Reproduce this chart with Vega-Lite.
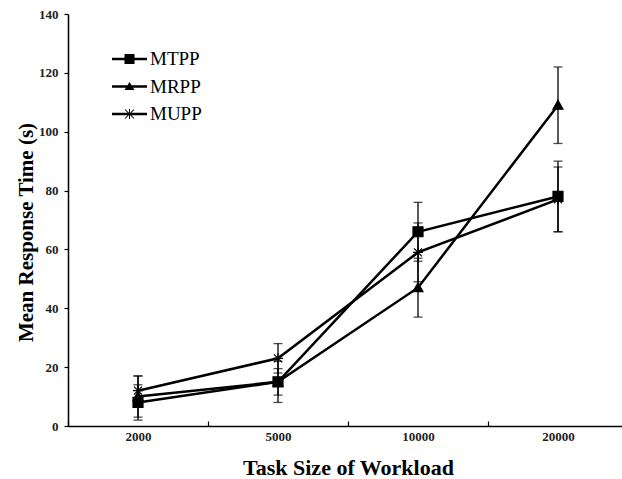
{
  "$schema": "https://vega.github.io/schema/vega-lite/v6.json",
  "width": 554,
  "height": 412,
  "autosize": {"type": "none"},
  "padding": {"left": 68, "top": 14, "right": 0, "bottom": 53},
  "background": "white",
  "config": {
    "view": {"stroke": null},
    "font": "Liberation Serif",
    "axis": {
      "grid": false,
      "domainColor": "black",
      "domainWidth": 1.5,
      "tickColor": "black",
      "tickWidth": 1.2,
      "labelFont": "Liberation Serif",
      "labelFontWeight": "bold",
      "labelFontSize": 13,
      "labelColor": "#222",
      "titleFont": "Liberation Serif",
      "titleFontWeight": "bold",
      "titleFontSize": 22,
      "titleColor": "black"
    }
  },
  "data": {
    "values": [
      {"series": "MTPP", "task": "2000", "mean": 8, "lo": 2, "hi": 14},
      {"series": "MTPP", "task": "5000", "mean": 15, "lo": 10.5, "hi": 19.5},
      {"series": "MTPP", "task": "10000", "mean": 66, "lo": 56, "hi": 76},
      {"series": "MTPP", "task": "20000", "mean": 78, "lo": 66, "hi": 90},
      {"series": "MRPP", "task": "2000", "mean": 10, "lo": 3, "hi": 17},
      {"series": "MRPP", "task": "5000", "mean": 15, "lo": 8, "hi": 22},
      {"series": "MRPP", "task": "10000", "mean": 47, "lo": 37, "hi": 57},
      {"series": "MRPP", "task": "20000", "mean": 109, "lo": 96, "hi": 122},
      {"series": "MUPP", "task": "2000", "mean": 12, "lo": 7, "hi": 17},
      {"series": "MUPP", "task": "5000", "mean": 23, "lo": 18, "hi": 28},
      {"series": "MUPP", "task": "10000", "mean": 59, "lo": 49, "hi": 69},
      {"series": "MUPP", "task": "20000", "mean": 77, "lo": 66, "hi": 88}
    ]
  },
  "encoding": {
    "x": {
      "field": "task",
      "type": "ordinal",
      "sort": ["2000", "5000", "10000", "20000"],
      "scale": {"type": "band", "range": [0, 560], "paddingInner": 0, "paddingOuter": 0},
      "axis": {
        "title": "Task Size of Workload",
        "labelAngle": 0,
        "labelPadding": 9,
        "tickBand": "extent",
        "tickSize": -5,
        "titleY": 48,
        "titleBaseline": "alphabetic"
      }
    }
  },
  "layer": [
    {
      "mark": {"type": "line", "color": "black", "strokeWidth": 2.5},
      "encoding": {
        "y": {
          "field": "mean",
          "type": "quantitative",
          "title": "Mean Response Time (s)",
          "scale": {"domain": [0, 140], "nice": false},
          "axis": {
            "values": [0, 20, 40, 60, 80, 100, 120, 140],
            "tickSize": 4,
            "labelPadding": 6,
            "titleFontSize": 21,
            "titleX": -36,
            "titleY": 218,
            "titleBaseline": "alphabetic"
          }
        },
        "detail": {"field": "series"}
      }
    },
    {
      "mark": {
        "type": "errorbar",
        "color": "black",
        "thickness": 1.3,
        "ticks": {"size": 9, "thickness": 1.3, "color": "black"}
      },
      "encoding": {
        "y": {"field": "lo", "type": "quantitative", "title": "Mean Response Time (s)"},
        "y2": {"field": "hi"},
        "detail": {"field": "series"}
      }
    },
    {
      "mark": {"type": "point", "filled": true, "color": "black", "stroke": "black", "strokeWidth": 1.2, "opacity": 1, "size": 100},
      "encoding": {
        "y": {"field": "mean", "type": "quantitative", "title": "Mean Response Time (s)"},
        "shape": {
          "field": "series",
          "type": "nominal",
          "scale": {
            "domain": ["MTPP", "MRPP", "MUPP"],
            "range": [
              "M-1,-1H1V1H-1Z",
              "M0,-1L1,0.8L-1,0.8Z",
              "M-1,0H1M0,-1V1M-0.8,-0.8L0.8,0.8M-0.8,0.8L0.8,-0.8"
            ]
          },
          "legend": null
        }
      }
    },
    {
      "mark": {"type": "point", "filled": true, "color": "black", "opacity": 0},
      "encoding": {
        "y": {"field": "mean", "type": "quantitative", "title": "Mean Response Time (s)"},
        "shape": {
          "field": "series",
          "type": "nominal",
          "scale": {
            "domain": ["MTPP", "MRPP", "MUPP"],
            "range": [
              "M-1.75,-0.12H1.75V0.12H-1.75ZM-0.5,-0.5H0.5V0.5H-0.5Z",
              "M-1.75,-0.12H1.75V0.12H-1.75ZM0,-0.45L0.5,0.35L-0.5,0.35Z",
              "M-1.75,-0.12H1.75V0.12H-1.75ZM-0.05,-0.5H0.05V0.5H-0.05ZM-0.415,-0.485L0.485,0.415L0.415,0.485L-0.485,-0.415ZM-0.485,0.415L0.415,-0.485L0.485,-0.415L-0.415,0.485Z"
            ]
          },
          "legend": {
            "title": null,
            "orient": "none",
            "legendX": 50.5,
            "legendY": 34,
            "padding": 0,
            "symbolSize": 400,
            "symbolOpacity": 1,
            "symbolFillColor": "black",
            "labelFont": "Liberation Serif",
            "labelFontSize": 19,
            "labelColor": "black",
            "labelOffset": 9.5,
            "rowPadding": 6.5
          }
        }
      }
    }
  ],
  "resolve": {"scale": {"shape": "independent"}}
}
